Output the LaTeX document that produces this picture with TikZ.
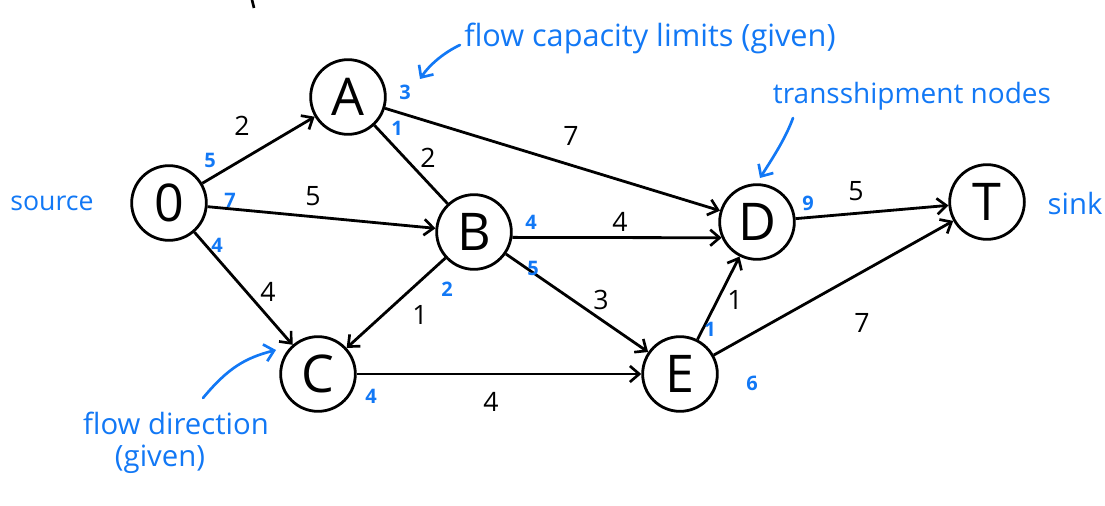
\documentclass[tikz,border=0pt]{standalone}
\usepackage{fontspec}
\setmainfont{Open Sans}
\usetikzlibrary{arrows.meta}
\definecolor{pen}{RGB}{18,120,245}
\tikzset{
  x=0.75pt, y=-0.75pt,
  vertex/.style={circle, draw, line width=2.1pt, minimum size=56pt, inner sep=0pt, font=\fontsize{39}{39}\selectfont},
  arr/.style={line width=2.1pt, -{Straight Barb[length=7pt,width=12pt,line width=2pt]}},
  plain/.style={line width=2.1pt},
  wt/.style={font=\fontsize{20}{20}\selectfont, inner sep=0pt},
  capnum/.style={font=\fontsize{15}{15}\selectfont\bfseries, text=pen, inner sep=0pt},
  note/.style={font=\fontsize{20}{24}\selectfont, text=pen, inner sep=0pt, align=center},
  notearr/.style={draw=pen, line width=2pt, line cap=round, -{Straight Barb[length=7pt,width=13pt,line width=2pt]}}
}
\begin{document}
\begin{tikzpicture}
\useasboundingbox (0,0) rectangle (1105,506);
% nodes
\node[vertex] (O) at (169,203) {0};
\node[vertex] (A) at (348,97) {A};
\node[vertex] (B) at (474,232) {B};
\node[vertex] (C) at (318,374) {C};
\node[vertex] (D) at (757,222) {D};
\node[vertex] (E) at (680,374) {E};
\node[vertex] (T) at (987,202) {T};
% edges
\draw[arr] (O) -- (A);
\draw[arr] (O) -- (B);
\draw[arr] (O) -- (C);
\draw[arr] (A) -- (D);
\draw[plain] (A) -- (B);
\draw[arr] (B.-8) -- (D.204);
\draw[arr] (B) -- (E);
\draw[arr] (B) -- (C);
\draw[arr] (C) -- (E);
\draw[arr] (E) -- (D);
\draw[arr] (E) -- (T);
\draw[arr] (D) -- (T);
% flow weights (black)
\node[wt] (wOA) at (242,126) {2};
\node[wt] (wOB) at (313,196) {5};
\node[wt] (wOC) at (268,292) {4};
\node[wt] (wAD) at (571,136) {7};
\node[wt] (wAB) at (428,158) {2};
\node[wt] (wBD) at (620,222) {4};
\node[wt] (wBE) at (601,300) {3};
\node[wt] (wBC) at (420,315) {1};
\node[wt] (wCE) at (491,402) {4};
\node[wt] (wED) at (735,300) {1};
\node[wt] (wET) at (862,323) {7};
\node[wt] (wDT) at (856,191) {5};
% capacities (blue)
\node[capnum] (cOA) at (210,160) {5};
\node[capnum] (cOB) at (230,200) {7};
\node[capnum] (cOC) at (217,245) {4};
\node[capnum] (cAD) at (405,92) {3};
\node[capnum] (cAB) at (397,128) {1};
\node[capnum] (cBD) at (531,222) {4};
\node[capnum] (cBE) at (533,268) {5};
\node[capnum] (cBC) at (447,289) {2};
\node[capnum] (cCE) at (371,396) {4};
\node[capnum] (cED) at (710,329) {1};
\node[capnum] (cET) at (752,383) {6};
\node[capnum] (cDT) at (808,203) {9};
% annotations
\node[note] (src) at (52,203) {source};
\node[note, font=\fontsize{22}{24}\selectfont] (snk) at (1075,203) {sink};
\node[note, anchor=west, font=\fontsize{23}{24}\selectfont] (capnote) at (464,38) {flow capacity limits (given)};
\node[note, font=\fontsize{21}{24}\selectfont] (trans) at (912,96) {transshipment nodes};
\node[note, font=\fontsize{22}{24}\selectfont] (dirnote) at (176,443) {flow direction\\\hspace*{-24pt}(given)};
\coordinate (capstart) at (460,45);
\coordinate (capend) at (420,79);
\coordinate (transstart) at (793,118);
\coordinate (transend) at (760,178);
\coordinate (dirstart) at (203,398);
\coordinate (dirend) at (276,350);
\draw[notearr] (capstart) .. controls (445,52) and (430,64) .. (capend);
\draw[notearr] (transstart) .. controls (785,140) and (770,162) .. (transend);
\draw[notearr] (dirstart) .. controls (228,368) and (245,358) .. (dirend);
% stray pen mark at the top
\coordinate (m1) at (252,0);
\coordinate (m2) at (254,8);
\draw[line width=2pt] (m1) -- (m2);
\end{tikzpicture}
\end{document}
